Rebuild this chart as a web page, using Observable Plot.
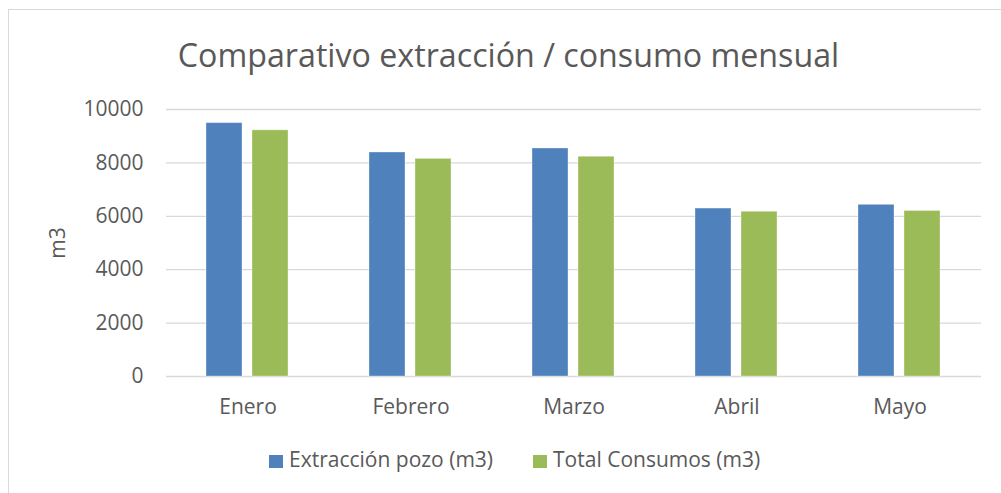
<!DOCTYPE html>
<html><head><meta charset="utf-8">
<script src="https://cdn.jsdelivr.net/npm/d3@7"></script>
<script src="https://cdn.jsdelivr.net/npm/@observablehq/plot@0.6"></script>
<style>
body{margin:0;background:#fff;font-family:"Open Sans",sans-serif;}
#wrap{position:relative;width:1001px;height:493px;overflow:hidden;background:#fff;}
#frame{position:absolute;left:8px;top:9px;width:1100px;height:600px;border-left:1.5px solid #d9d9d9;border-top:1.5px solid #d9d9d9;}
#title{position:absolute;left:8px;width:1001px;top:39px;text-align:center;font-size:32.2px;line-height:32px;color:#595959;white-space:nowrap;}
#chart{position:absolute;left:0;top:80px;}
#legend{position:absolute;left:269px;top:449px;font-size:21px;line-height:21px;color:#595959;display:flex;align-items:center;white-space:nowrap;}
.item{display:flex;align-items:center;margin-right:40px;}
.sw{width:14px;height:13px;margin-right:6px;margin-top:4px;}
</style></head>
<body>
<div id="wrap">
  <div id="frame"></div>
  <div id="title">Comparativo extracción / consumo mensual</div>
  <div id="chart"></div>
  <div id="legend"></div>
</div>
<script>
const months = ["Enero", "Febrero", "Marzo", "Abril", "Mayo"];
const extraccion = [9490, 8390, 8540, 6290, 6430];
const consumos = [9220, 8150, 8230, 6170, 6200];
const series = ["Extracción pozo (m3)", "Total Consumos (m3)"];
const colors = ["#4F81BD", "#9BBB59"];
const yTicks = [0, 2000, 4000, 6000, 8000, 10000];

const data = months.flatMap((m, i) => [
  {month: m, series: series[0], value: extraccion[i]},
  {month: m, series: series[1], value: consumos[i]}
]);

const chart = Plot.plot({
  width: 1001, height: 360,
  marginLeft: 166, marginRight: 20, marginTop: 29, marginBottom: 64,
  style: {fontSize: "21px", fontFamily: "'Open Sans', sans-serif", color: "#595959", background: "transparent"},
  fx: {domain: months, padding: 0, label: null, axis: "bottom", tickSize: 0, tickPadding: 23},
  x: {domain: series, paddingInner: 0.207, paddingOuter: 0.86, axis: null},
  y: {domain: [0, 10000], ticks: yTicks, tickFormat: d3.format("d"), tickSize: 0, tickPadding: 23,
      label: "m3", labelAnchor: "center", labelOffset: 116, labelArrow: false},
  color: {domain: series, range: colors},
  marks: [
    Plot.gridY(yTicks, {stroke: "#d9d9d9", strokeOpacity: 1, strokeWidth: 1.3}),
    Plot.barY(data, {fx: "month", x: "series", y: "value", fill: "series", stroke: "white", strokeOpacity: 0.35, strokeWidth: 1})
  ]
});
document.getElementById("chart").appendChild(chart);

const legend = document.getElementById("legend");
series.forEach((s, i) => {
  const item = document.createElement("div");
  item.className = "item";
  const sw = document.createElement("span");
  sw.className = "sw";
  sw.style.background = colors[i];
  const t = document.createElement("span");
  t.textContent = s;
  item.appendChild(sw); item.appendChild(t);
  legend.appendChild(item);
});
</script>
</body></html>
